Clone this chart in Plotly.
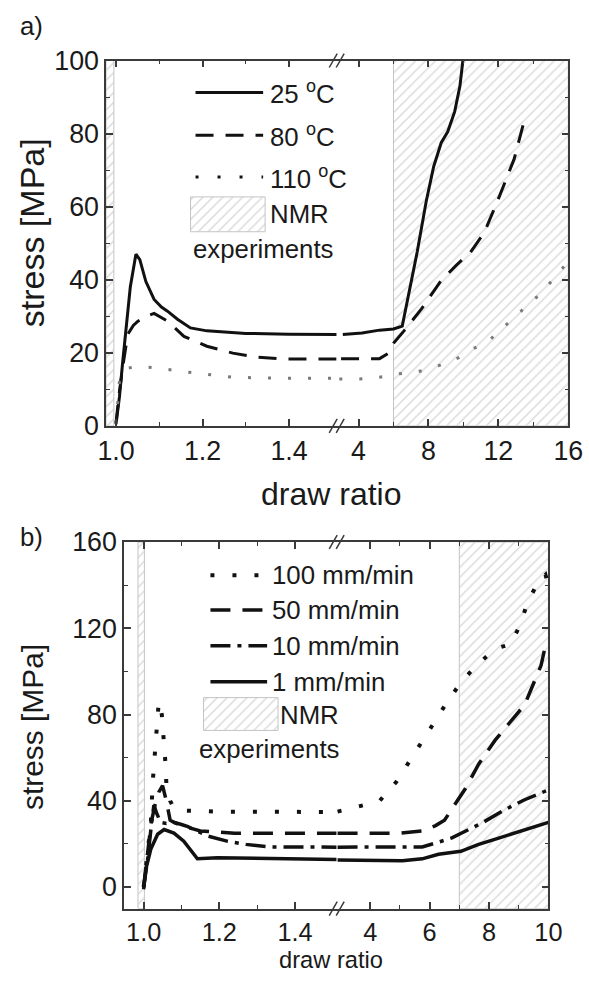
import plotly.graph_objects as go

W, H = 589, 985
FONT = "Liberation Sans, Arial, Helvetica, sans-serif"
AX = "#3a3a3a"
BLK = "#111111"
GREY = "#7a7a7a"

# ---------------- data: panel a (temperature) ----------------
a_25_x = [1.0, 1.008, 1.015, 1.023, 1.033, 1.046, 1.055, 1.069, 1.088, 1.105, 1.119, 1.142, 1.172, 1.21, 1.3, 1.4, 1.51,
          3.1, 4.2, 5.2, 6.0, 6.5, 6.9, 7.36, 7.87, 8.3, 8.73, 9.1, 9.5, 9.8, 9.97]
a_25_y = [0.5, 8, 17, 26, 38, 47, 45.5, 39.5, 34.6, 32.5, 31.4, 29.2, 26.8, 26, 25.3, 25.1, 25,
          25, 25.4, 26.2, 26.5, 27.3, 37, 47.7, 61.4, 71, 77.5, 80.5, 86, 93, 100]
a_80_x = [1.0, 1.008, 1.018, 1.027, 1.04, 1.05, 1.07, 1.088, 1.12, 1.157, 1.21, 1.27, 1.326, 1.386, 1.51,
          3.0, 4.2, 5.2, 5.75, 6.0, 6.6, 7.6, 8.7, 9.6, 10.4, 11.2, 11.94, 12.9, 13.45]
a_80_y = [0.8, 9.5, 18, 25, 27.5, 28.6, 30, 30.8, 28.6, 24.5, 21.8, 19.9, 18.8, 18.3, 18.3,
          18.4, 18.4, 18.4, 20, 22.6, 26, 32, 39.6, 44, 47.5, 53, 61.4, 73, 83]
a_110_x = [1.0, 1.008, 1.018, 1.027, 1.05, 1.096, 1.18, 1.27, 1.387, 1.51,
           2.9, 4.05, 5.2, 6.2, 7.4, 8.55, 9.7, 10.35, 11.5, 12.05, 12.9, 13.75, 14.4, 15.1, 15.8, 16.0]
a_110_y = [0.5, 12.3, 15, 15.8, 16.3, 15.8, 14.5, 13.3, 13, 13,
           12.8, 12.8, 13.3, 14.2, 14.8, 16.4, 18.6, 20.6, 23.4, 26.2, 29.4, 33.6, 36, 40, 44, 45]
a_nmr = [(0.977, 0.995), (6.0, 16.0)]

# ---------------- data: panel b (draw speed) ----------------
b_100_x = [1.0, 1.01, 1.019, 1.024, 1.028, 1.033, 1.04, 1.048, 1.052, 1.055, 1.058, 1.06, 1.07, 1.08, 1.1, 1.2, 1.3, 1.4, 1.51,
           2.9, 3.64, 4.3, 4.88, 5.2, 5.65, 6.08, 6.53, 7.08, 7.58, 8.2, 8.75, 9.05, 9.3, 9.65, 9.9, 10.0]
b_100_y = [0, 15, 29.6, 48.8, 58.7, 68.5, 86, 80, 72, 66, 56.5, 48, 40, 36.5, 35.5, 35, 34.8, 34.8, 34.8,
           35, 37.4, 39.7, 48.8, 55.7, 65.6, 75.5, 84.5, 95.5, 102.7, 110.5, 112.7, 121.9, 131.9, 141.5, 144.8, 140]
b_50_x = [1.0, 1.01, 1.02, 1.03, 1.04, 1.05, 1.06, 1.07, 1.08, 1.1, 1.15, 1.24, 1.33, 1.51,
          2.9, 4.0, 5.0, 5.75, 6.2, 6.5, 6.75, 7.2, 7.65, 8.2, 8.65, 9.2, 9.75, 9.9, 10.0]
b_50_y = [0, 15, 30, 38, 44, 47, 40, 31, 30, 28.5, 26, 25, 25, 25,
          25, 25, 25, 26, 28.5, 31, 36, 45.6, 57, 68, 75.5, 84.5, 102.7, 112, 110]
b_10_x = [1.0, 1.01, 1.02, 1.027, 1.035, 1.045, 1.06, 1.08, 1.1, 1.117, 1.17, 1.22, 1.27, 1.33, 1.51,
          2.9, 4.0, 5.0, 5.75, 6.2, 6.75, 7.2, 7.75, 8.55, 9.2, 9.85, 10.0]
b_10_y = [0, 12, 28, 38, 34, 30, 29.5, 30, 29, 28, 23.6, 21.3, 19.8, 18.6, 18.5,
          18.5, 18.5, 18.5, 18.6, 20.4, 22.8, 25.9, 29.6, 36, 40.5, 44.2, 45]
b_1_x = [1.0, 1.006, 1.019, 1.037, 1.054, 1.08, 1.106, 1.13, 1.142, 1.195, 1.326, 1.51,
         2.9, 4.0, 5.08, 5.75, 6.3, 7.05, 7.65, 8.3, 9.0, 9.5, 9.9, 10.0]
b_1_y = [-1, 8.5, 17.6, 24.5, 26.7, 25, 21.3, 16, 13.1, 13.6, 13.1, 12.8,
         12.6, 12.6, 12.2, 13.1, 15.2, 16.6, 19.8, 22.6, 25.8, 28, 29.6, 30]
b_nmr = [(0.985, 1.002), (7.0, 10.0)]

# ---------------- axes / ticks ----------------
a_rng1, a_rng2, a_yrng = [0.977, 1.51], [2.75, 16.0], [0, 100]
b_rng1, b_rng2, b_yrng = [0.948, 1.51], [2.87, 10.0], [-10, 160]
a_t1, a_m1 = [1.0, 1.2, 1.4], [1.1, 1.3]
a_t2, a_m2 = [4, 8, 12, 16], [6, 10, 14]
a_ty, a_my = [0, 20, 40, 60, 80, 100], [10, 30, 50, 70, 90]
b_t1, b_m1 = [1.0, 1.2, 1.4], [1.1, 1.3]
b_t2, b_m2 = [4, 6, 8, 10], [5, 7, 9]
b_ty, b_my = [0, 40, 80, 120, 160], [20, 60, 100, 140]

# The photographed page shows the figure slightly shrunk and inset;
# layout positions below are given in photo pixels and mapped back here.
OX, SX, OY, SY = 7.35, 0.965, 12.26, 0.974
FS = 1 / ((SX + SY) / 2)


def PX(p):
    return (p - OX) / SX


def PY(p):
    return (p - OY) / SY


def fx(p):          # photo px -> paper x
    return PX(p) / W


def fy(p):          # photo px -> paper y
    return 1 - PY(p) / H


def fs(s):
    return round(s * FS, 1)


# plot frames (photo px): left, top, right, bottom
A_L, A_B, A_R, A_T = 105, 58, 570, 425
B_L, B_B, B_R, B_T = 123, 541.7, 550, 910
BRK = 337


def split(xs, ys, cut=2.0):
    s1 = [(x, y) for x, y in zip(xs, ys) if x < cut]
    s2 = [(x, y) for x, y in zip(xs, ys) if x >= cut]
    return ([p[0] for p in s1], [p[1] for p in s1]), ([p[0] for p in s2], [p[1] for p in s2])


fig = go.Figure()

PAT = dict(shape="/", fgcolor="#b8b8b8", bgcolor="white", size=7, solidity=0.22)


def add_nmr(regions, yr, axes_pairs, rng1):
    for (x0, x1) in regions:
        xa, ya = axes_pairs[0] if x1 <= rng1[1] else axes_pairs[1]
        fig.add_trace(go.Scatter(x=[x0, x1, x1, x0, x0], y=[yr[0], yr[0], yr[1], yr[1], yr[0]],
                                 fill="toself", fillpattern=PAT, fillcolor="white", mode="lines",
                                 line=dict(color="#c4c4c4", width=1), xaxis=xa, yaxis=ya,
                                 hoverinfo="skip", showlegend=False))


add_nmr(a_nmr, a_yrng, [("x", "y"), ("x2", "y2")], a_rng1)
add_nmr(b_nmr, b_yrng, [("x3", "y3"), ("x4", "y4")], b_rng1)

A_STY = {
    "25": (a_25_x, a_25_y, dict(color=BLK, width=3, dash="solid")),
    "80": (a_80_x, a_80_y, dict(color=BLK, width=3, dash="18px,12px")),
    "110": (a_110_x, a_110_y, dict(color=GREY, width=3, dash="3px,17px")),
}
B_STY = {
    "100": (b_100_x, b_100_y, dict(color=BLK, width=4, dash="4px,18px")),
    "50": (b_50_x, b_50_y, dict(color=BLK, width=3.5, dash="20px,12px")),
    "10": (b_10_x, b_10_y, dict(color=BLK, width=3.5, dash="20px,7px,4px,7px")),
    "1": (b_1_x, b_1_y, dict(color=BLK, width=3.5, dash="solid")),
}

for xs, ys, ln in A_STY.values():
    (x1, y1), (x2, y2) = split(xs, ys)
    fig.add_trace(go.Scatter(x=x1, y=y1, mode="lines", line=ln, xaxis="x", yaxis="y", showlegend=False))
    fig.add_trace(go.Scatter(x=x2, y=y2, mode="lines", line=ln, xaxis="x2", yaxis="y2", showlegend=False))
for xs, ys, ln in B_STY.values():
    (x1, y1), (x2, y2) = split(xs, ys)
    fig.add_trace(go.Scatter(x=x1, y=y1, mode="lines", line=ln, xaxis="x3", yaxis="y3", showlegend=False))
    fig.add_trace(go.Scatter(x=x2, y=y2, mode="lines", line=ln, xaxis="x4", yaxis="y4", showlegend=False))

TF = dict(family=FONT, size=fs(26), color="#1a1a1a")
TFB = dict(family=FONT, size=fs(24.5), color="#1a1a1a")


def xax(dom, rng, anchor, tv, mv, fmt="{:.1f}", font=TF):
    return dict(domain=dom, range=rng, anchor=anchor, tickmode="array", tickvals=tv,
                ticktext=[fmt.format(v) for v in tv], ticks="inside", ticklen=7, tickwidth=1.5,
                tickcolor=AX, showline=True, linecolor=AX, linewidth=1.5, mirror="ticks",
                showgrid=False, zeroline=False, tickfont=font,
                minor=dict(tickmode="array", tickvals=mv, ticks="inside", ticklen=4, tickwidth=1.2, tickcolor=AX))


def yax(dom, rng, anchor, tv, mv, side="left", labels=True, match=None):
    d = dict(domain=dom, range=rng, anchor=anchor, tickmode="array", tickvals=tv,
             ticktext=[str(v) for v in tv], ticks="inside", ticklen=7, tickwidth=1.5, tickcolor=AX,
             showline=True, linecolor=AX, linewidth=1.5, mirror=False, side=side,
             showgrid=False, zeroline=False, tickfont=TF, showticklabels=labels,
             minor=dict(tickmode="array", tickvals=mv, ticks="inside", ticklen=4, tickwidth=1.2, tickcolor=AX))
    if match:
        d["matches"] = match
    return d


a_ydom = [fy(A_T), fy(A_B)]
b_ydom = [fy(B_T), fy(B_B)]

fig.update_layout(
    width=W, height=H, margin=dict(l=0, r=0, t=0, b=0, pad=0), autosize=False,
    paper_bgcolor="white", plot_bgcolor="rgba(0,0,0,0)", showlegend=False,
    font=dict(family=FONT, color="#1a1a1a"),
    xaxis=xax([fx(A_L), fx(BRK)], a_rng1, "y", a_t1, a_m1),
    xaxis2=xax([fx(BRK), fx(A_R)], a_rng2, "y2", a_t2, a_m2, fmt="{:g}"),
    yaxis=yax(a_ydom, a_yrng, "x", a_ty, a_my),
    yaxis2=yax(a_ydom, a_yrng, "x2", a_ty, a_my, side="right", labels=False, match="y"),
    xaxis3=xax([fx(B_L), fx(BRK)], b_rng1, "y3", b_t1, b_m1, font=TFB),
    xaxis4=xax([fx(BRK), fx(B_R)], b_rng2, "y4", b_t2, b_m2, fmt="{:g}", font=TFB),
    yaxis3=yax(b_ydom, b_yrng, "x3", b_ty, b_my),
    yaxis4=yax(b_ydom, b_yrng, "x4", b_ty, b_my, side="right", labels=False, match="y3"),
    xaxis5=dict(domain=[0, 1], range=[0, W], anchor="y5", visible=False, fixedrange=True),
    yaxis5=dict(domain=[0, 1], range=[H, 0], anchor="x5", visible=False, fixedrange=True),
)

# ---------- axis break marks "//" ----------
for ybase in (A_B, A_T, B_B, B_T):
    for d in (-3.5, 3.5):
        fig.add_shape(type="line", xref="paper", yref="paper",
                      x0=fx(BRK + d - 4), y0=fy(ybase + 7), x1=fx(BRK + d + 4), y1=fy(ybase - 7),
                      line=dict(color=AX, width=1.5))


# ---------- legends (manual, like the original) ----------
def legend(items, lx0, lx1, tx, ys, box, nmr_xy, exp_xy, size):
    for (ln, label), y in zip(items, ys):
        fig.add_shape(type="line", xref="paper", yref="paper", x0=fx(lx0), x1=fx(lx1), y0=fy(y), y1=fy(y),
                      line=dict(color=BLK, width=ln["width"], dash=ln["dash"]))
        fig.add_annotation(xref="paper", yref="paper", x=fx(tx), y=fy(y), text=label, showarrow=False,
                           xanchor="left", yanchor="middle", font=dict(family=FONT, size=fs(size), color="#1a1a1a"))
    bx0, by0, bx1, by1 = box
    fig.add_trace(go.Scatter(x=[PX(bx0), PX(bx1), PX(bx1), PX(bx0), PX(bx0)],
                             y=[PY(by0), PY(by0), PY(by1), PY(by1), PY(by0)], fill="toself",
                             fillpattern=PAT, fillcolor="white", mode="lines",
                             line=dict(color="#c4c4c4", width=1), xaxis="x5", yaxis="y5",
                             hoverinfo="skip", showlegend=False))
    fig.add_annotation(xref="paper", yref="paper", x=fx(nmr_xy[0]), y=fy(nmr_xy[1]), text="NMR", showarrow=False,
                       xanchor="left", yanchor="middle", font=dict(family=FONT, size=fs(size), color="#1a1a1a"))
    fig.add_annotation(xref="paper", yref="paper", x=fx(exp_xy[0]), y=fy(exp_xy[1]), text="experiments",
                       showarrow=False, xanchor="left", yanchor="middle",
                       font=dict(family=FONT, size=fs(size), color="#1a1a1a"))


legend([(A_STY["25"][2], "25 <sup>o</sup>C"), (A_STY["80"][2], "80 <sup>o</sup>C"),
        (dict(color=BLK, width=3, dash="3px,19px"), "110 <sup>o</sup>C")],
       195, 263, 268, [90, 133, 175], (190, 195, 265, 230), (268, 212), (190, 247), 25)
legend([(B_STY["100"][2], "100 mm/min"), (B_STY["50"][2], "50 mm/min"),
        (B_STY["10"][2], "10 mm/min"), (B_STY["1"][2], "1 mm/min")],
       210, 267, 270, [575, 610, 646, 682], (203, 698, 278, 731), (278, 715), (196, 750), 25)


# ---------- titles / panel labels ----------
def ann(x, y, text, size, angle=0, yanchor="middle", yshift=0):
    yy = fy(y) if y is not None else 0
    fig.add_annotation(xref="paper", yref="paper", x=fx(x), y=yy, text=text, showarrow=False,
                       xanchor="center", yanchor=yanchor, textangle=angle, yshift=yshift,
                       font=dict(family=FONT, size=fs(size), color="#1a1a1a"))


ann(30, 23, "a)", 25)
ann(30, 537, "b)", 25)
ann(30, 231, "stress [MPa]", 33, -90)
ann(332, 493, "draw ratio", 31)
ann(31, 728, "stress [MPa]", 29, -90)
ann(331, None, "draw ratio", 23, yanchor="bottom", yshift=-5)

fig.write_html("out.html")
